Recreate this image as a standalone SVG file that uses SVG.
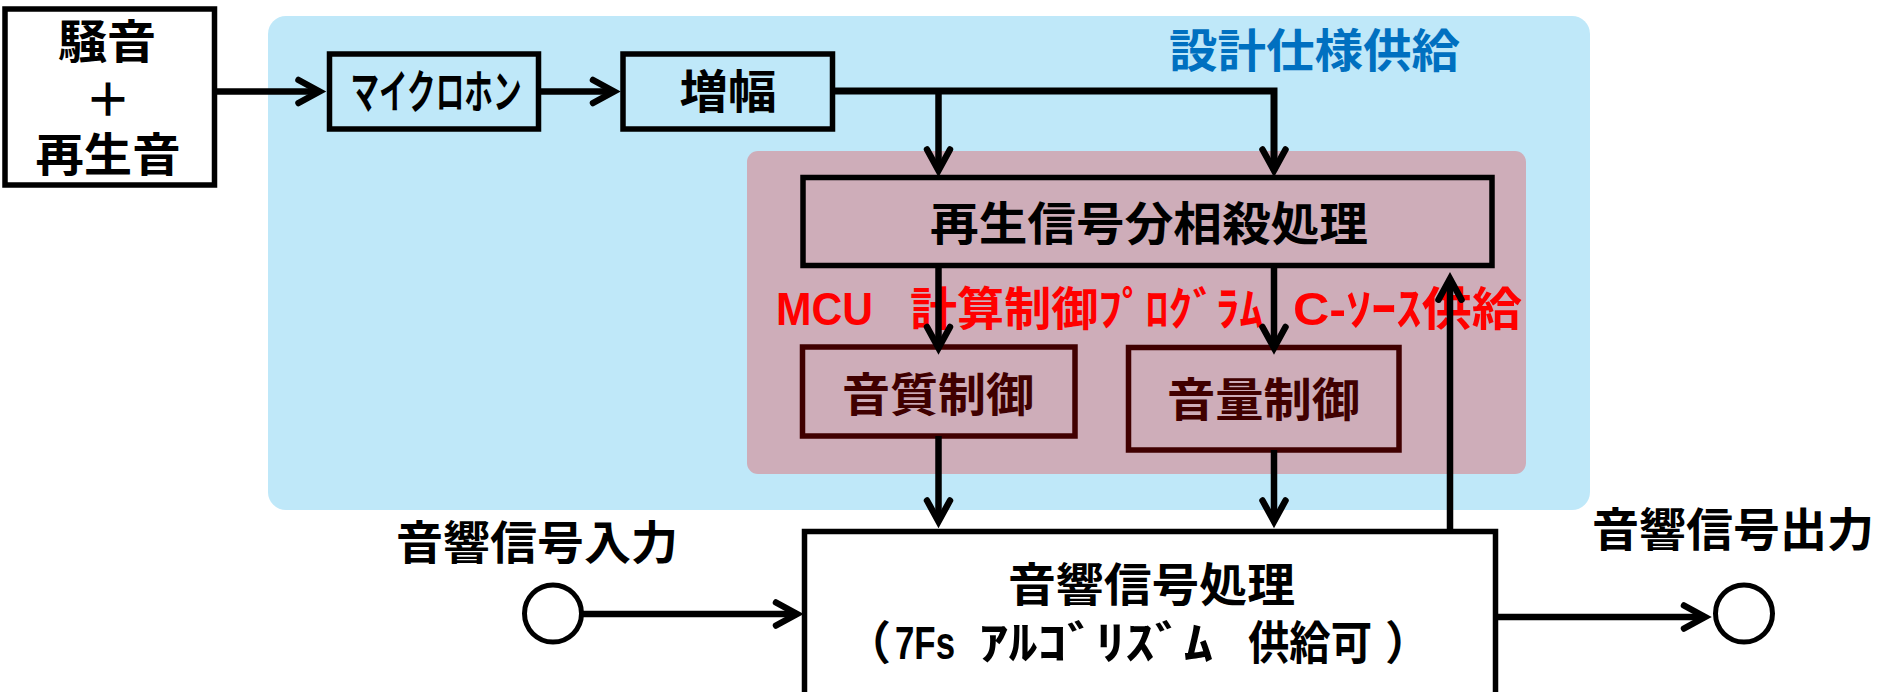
<svg xmlns="http://www.w3.org/2000/svg" width="1883" height="692" viewBox="0 0 1883 692">
<defs>
<style>
.t{font-family:"Liberation Sans","Noto Sans CJK JP",sans-serif;font-weight:700;font-size:46px;dominant-baseline:central;text-anchor:middle;fill:#000}
.red{fill:#FF0000;text-anchor:start}
.dr{fill:#400000}
.bx{fill:none;stroke:#000;stroke-width:5.5}
.bxw{fill:#fff;stroke:#000;stroke-width:5.5}
.bxr{fill:none;stroke:#400000;stroke-width:5.5}
.cn{fill:none;stroke:#000;stroke-width:6.5;marker-end:url(#ah)}
.port{fill:#fff;stroke:#000;stroke-width:5}
</style>
<marker id="ah" markerUnits="userSpaceOnUse" viewBox="-30 -20 40 40" markerWidth="40" markerHeight="40" refX="0" refY="0" orient="auto" overflow="visible">
<path d="M-21,-11.5 L0,0 L-21,11.5" fill="none" stroke="#000" stroke-width="6.5" stroke-linecap="round" stroke-linejoin="miter"/>
</marker>
</defs>
<rect width="1883" height="692" fill="#fff"/>
<g id="panel-spec">
<rect x="268" y="16" width="1322" height="494" rx="18" fill="#BFE8F9"/>
<text class="t" x="1314.5" y="51" font-size="48" textLength="291" lengthAdjust="spacingAndGlyphs" style="fill:#0070C0">設計仕様供給</text>
</g>
<g id="panel-mcu">
<rect x="747" y="151" width="779" height="323" rx="11" fill="#CEADB9"/>
</g>
<g id="source">
<rect class="bxw" x="5" y="9" width="209.5" height="176"/>
<text class="t" x="107" y="42" textLength="98" lengthAdjust="spacingAndGlyphs">騒音</text>
<text class="t" x="108" y="100">＋</text>
<text class="t" x="108" y="154.5" textLength="145" lengthAdjust="spacingAndGlyphs">再生音</text>
</g>
<g id="mic">
<rect class="bx" x="329.5" y="54" width="209" height="75"/>
<text class="t" x="436" y="92" font-size="44" textLength="171" lengthAdjust="spacingAndGlyphs">マイクロホン</text>
</g>
<g id="amp">
<rect class="bx" x="623" y="54" width="209.5" height="75"/>
<text class="t" x="728" y="92" textLength="97" lengthAdjust="spacingAndGlyphs">増幅</text>
</g>
<g id="cancel">
<rect class="bx" x="803" y="177.5" width="689" height="88"/>
<text class="t" x="1149" y="224" font-size="48" textLength="438" lengthAdjust="spacingAndGlyphs">再生信号分相殺処理</text>
</g>
<g id="mcu-label">
<text class="t red" y="309"><tspan x="776" textLength="97" lengthAdjust="spacingAndGlyphs">MCU</tspan> <tspan x="910" textLength="353" lengthAdjust="spacingAndGlyphs">計算制御ﾌﾟﾛｸﾞﾗﾑ</tspan> <tspan x="1293" textLength="229" lengthAdjust="spacingAndGlyphs">C-ｿｰｽ供給</tspan></text>
</g>
<g id="tone">
<rect class="bxr" x="802.5" y="347" width="272.5" height="89"/>
<text class="t dr" x="938" y="395" textLength="192" lengthAdjust="spacingAndGlyphs">音質制御</text>
</g>
<g id="volume">
<rect class="bxr" x="1128.5" y="347.5" width="270.5" height="102.5"/>
<text class="t dr" x="1263.5" y="400" textLength="193" lengthAdjust="spacingAndGlyphs">音量制御</text>
</g>
<g id="dsp">
<rect class="bxw" x="804.5" y="531.5" width="691" height="200"/>
<text class="t" x="1151.5" y="585" textLength="287" lengthAdjust="spacingAndGlyphs">音響信号処理</text>
<text class="t" y="643" style="text-anchor:start"><tspan x="845">（</tspan><tspan x="895" textLength="60" lengthAdjust="spacingAndGlyphs">7Fs</tspan> <tspan x="979" textLength="234" lengthAdjust="spacingAndGlyphs">ｱﾙｺﾞﾘｽﾞﾑ</tspan> <tspan x="1248" textLength="124" lengthAdjust="spacingAndGlyphs">供給可</tspan><tspan x="1385">）</tspan></text>
</g>
<g id="input">
<circle class="port" cx="553" cy="613.5" r="28.5"/>
<text class="t" x="537" y="543" textLength="282" lengthAdjust="spacingAndGlyphs">音響信号入力</text>
</g>
<g id="output">
<circle class="port" cx="1744" cy="613.5" r="28.5"/>
<text class="t" x="1733" y="530" textLength="282" lengthAdjust="spacingAndGlyphs">音響信号出力</text>
</g>
<g id="connectors">
<path class="cn" d="M214.5,91.5 H319.5"/>
<path class="cn" d="M538.5,91.5 H614"/>
<path class="cn" d="M832.5,91 H1274 V170.5" style="stroke-width:7"/>
<path class="cn" d="M938.5,91 V170.5"/>
<path class="cn" d="M938.5,265 V348"/>
<path class="cn" d="M1274,265 V348"/>
<path class="cn" d="M938.5,436 V521.5"/>
<path class="cn" d="M1274,450 V521.5"/>
<path class="cn" d="M1450,531.5 V278.7"/>
<path class="cn" d="M581.5,614 H797"/>
<path class="cn" d="M1495.5,617 H1705"/>
</g>
</svg>
